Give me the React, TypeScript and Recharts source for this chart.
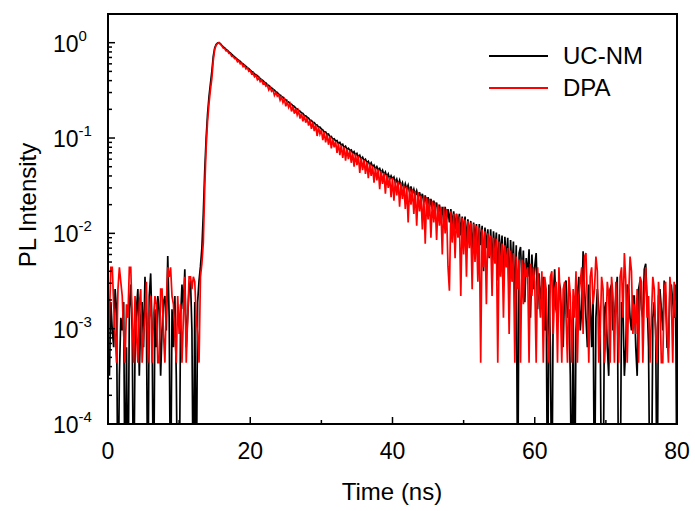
import React from "react";
import { LineChart, Line, XAxis, YAxis, Legend } from "recharts";

// time channels (ns), 0.2 ns apart
const times = [
  0, 0.2, 0.4, 0.6, 0.8, 1, 1.2, 1.4, 1.6, 1.8,
  2, 2.2, 2.4, 2.6, 2.8, 3, 3.2, 3.4, 3.6, 3.8,
  4, 4.2, 4.4, 4.6, 4.8, 5, 5.2, 5.4, 5.6, 5.8,
  6, 6.2, 6.4, 6.6, 6.8, 7, 7.2, 7.4, 7.6, 7.8,
  8, 8.2, 8.4, 8.6, 8.8, 9, 9.2, 9.4, 9.6, 9.8,
  10, 10.2, 10.4, 10.6, 10.8, 11, 11.2, 11.4, 11.6, 11.8,
  12, 12.2, 12.4, 12.6, 12.8, 13, 13.2, 13.4, 13.6, 13.8,
  14, 14.2, 14.4, 14.6, 14.8, 15, 15.2, 15.4, 15.6, 15.8,
  16, 16.2, 16.4, 16.6, 16.8, 17, 17.2, 17.4, 17.6, 17.8,
  18, 18.2, 18.4, 18.6, 18.8, 19, 19.2, 19.4, 19.6, 19.8,
  20, 20.2, 20.4, 20.6, 20.8, 21, 21.2, 21.4, 21.6, 21.8,
  22, 22.2, 22.4, 22.6, 22.8, 23, 23.2, 23.4, 23.6, 23.8,
  24, 24.2, 24.4, 24.6, 24.8, 25, 25.2, 25.4, 25.6, 25.8,
  26, 26.2, 26.4, 26.6, 26.8, 27, 27.2, 27.4, 27.6, 27.8,
  28, 28.2, 28.4, 28.6, 28.8, 29, 29.2, 29.4, 29.6, 29.8,
  30, 30.2, 30.4, 30.6, 30.8, 31, 31.2, 31.4, 31.6, 31.8,
  32, 32.2, 32.4, 32.6, 32.8, 33, 33.2, 33.4, 33.6, 33.8,
  34, 34.2, 34.4, 34.6, 34.8, 35, 35.2, 35.4, 35.6, 35.8,
  36, 36.2, 36.4, 36.6, 36.8, 37, 37.2, 37.4, 37.6, 37.8,
  38, 38.2, 38.4, 38.6, 38.8, 39, 39.2, 39.4, 39.6, 39.8,
  40, 40.2, 40.4, 40.6, 40.8, 41, 41.2, 41.4, 41.6, 41.8,
  42, 42.2, 42.4, 42.6, 42.8, 43, 43.2, 43.4, 43.6, 43.8,
  44, 44.2, 44.4, 44.6, 44.8, 45, 45.2, 45.4, 45.6, 45.8,
  46, 46.2, 46.4, 46.6, 46.8, 47, 47.2, 47.4, 47.6, 47.8,
  48, 48.2, 48.4, 48.6, 48.8, 49, 49.2, 49.4, 49.6, 49.8,
  50, 50.2, 50.4, 50.6, 50.8, 51, 51.2, 51.4, 51.6, 51.8,
  52, 52.2, 52.4, 52.6, 52.8, 53, 53.2, 53.4, 53.6, 53.8,
  54, 54.2, 54.4, 54.6, 54.8, 55, 55.2, 55.4, 55.6, 55.8,
  56, 56.2, 56.4, 56.6, 56.8, 57, 57.2, 57.4, 57.6, 57.8,
  58, 58.2, 58.4, 58.6, 58.8, 59, 59.2, 59.4, 59.6, 59.8,
  60, 60.2, 60.4, 60.6, 60.8, 61, 61.2, 61.4, 61.6, 61.8,
  62, 62.2, 62.4, 62.6, 62.8, 63, 63.2, 63.4, 63.6, 63.8,
  64, 64.2, 64.4, 64.6, 64.8, 65, 65.2, 65.4, 65.6, 65.8,
  66, 66.2, 66.4, 66.6, 66.8, 67, 67.2, 67.4, 67.6, 67.8,
  68, 68.2, 68.4, 68.6, 68.8, 69, 69.2, 69.4, 69.6, 69.8,
  70, 70.2, 70.4, 70.6, 70.8, 71, 71.2, 71.4, 71.6, 71.8,
  72, 72.2, 72.4, 72.6, 72.8, 73, 73.2, 73.4, 73.6, 73.8,
  74, 74.2, 74.4, 74.6, 74.8, 75, 75.2, 75.4, 75.6, 75.8,
  76, 76.2, 76.4, 76.6, 76.8, 77, 77.2, 77.4, 77.6, 77.8,
  78, 78.2, 78.4, 78.6, 78.8, 79, 79.2, 79.4, 79.6, 79.8,
  80,
];

// UC-NM (black); 1e-5 = zero counts, drawn below the axis
const ucnm = [
  1.3e-3, 3.2e-4, 1.9e-3, 9.6e-4, 6.4e-4, 2.6e-3, 1.6e-3, 1e-5, 3.2e-4, 1.3e-3,
  9.6e-4, 1.9e-3, 1e-5, 6.4e-4, 1e-5, 1.6e-3, 2.9e-3, 9.6e-4, 1e-5, 6.4e-4,
  1.6e-3, 2.6e-3, 3.2e-4, 1.3e-3, 1.9e-3, 6.4e-4, 3.5e-3, 1.3e-3, 1e-5, 2.2e-3,
  3.8e-3, 9.6e-4, 1e-5, 1.6e-3, 6.4e-4, 2.2e-3, 1.6e-3, 3.2e-4, 9.6e-4, 1.9e-3,
  2.2e-3, 9.6e-4, 5.8e-3, 1.3e-3, 1e-5, 1.6e-3, 6.4e-4, 2.2e-3, 3.2e-4, 1e-5,
  1e-5, 1.3e-3, 2.9e-3, 1.6e-3, 4.2e-3, 6.4e-4, 1.3e-3, 2.6e-3, 3.2e-3, 9.6e-4,
  1e-5, 1.9e-3, 1e-5, 1.9e-3, 3.2e-3, 4.5e-3, 7e-3, 0.016, 0.045, 0.1,
  0.18, 0.27, 0.37, 0.5, 0.72, 0.88, 0.96, 0.99, 1.0, 0.98,
  0.94, 0.905, 0.88, 0.85, 0.83, 0.8, 0.78, 0.755, 0.73, 0.71,
  0.69, 0.67, 0.65, 0.635, 0.61, 0.6, 0.58, 0.565, 0.545, 0.535,
  0.515, 0.5, 0.49, 0.47, 0.46, 0.45, 0.435, 0.42, 0.41, 0.4,
  0.385, 0.378, 0.362, 0.356, 0.343, 0.336, 0.325, 0.318, 0.305, 0.3,
  0.288, 0.282, 0.272, 0.268, 0.256, 0.252, 0.242, 0.239, 0.229, 0.226,
  0.218, 0.214, 0.205, 0.202, 0.194, 0.191, 0.184, 0.181, 0.172, 0.171,
  0.165, 0.162, 0.154, 0.153, 0.146, 0.145, 0.138, 0.137, 0.13, 0.13,
  0.124, 0.122, 0.115, 0.116, 0.109, 0.11, 0.103, 0.104, 0.097, 0.098,
  0.093, 0.094, 0.087, 0.09, 0.084, 0.086, 0.079, 0.082, 0.076, 0.078,
  0.074, 0.075, 0.069, 0.072, 0.066, 0.069, 0.063, 0.066, 0.06, 0.063,
  0.058, 0.06, 0.055, 0.057, 0.052, 0.055, 0.05, 0.052, 0.047, 0.05,
  0.046, 0.048, 0.043, 0.046, 0.041, 0.044, 0.039, 0.042, 0.037, 0.04,
  0.037, 0.039, 0.034, 0.037, 0.032, 0.036, 0.031, 0.034, 0.029, 0.033,
  0.029, 0.032, 0.027, 0.031, 0.026, 0.029, 0.025, 0.028, 0.024, 0.027,
  0.023, 0.026, 0.021, 0.025, 0.02, 0.024, 0.019, 0.023, 0.018, 0.022,
  0.019, 0.021, 0.016, 0.02, 0.015, 0.019, 0.013, 0.019, 0.014, 0.018,
  0.013, 0.018, 0.012, 0.017, 0.011, 0.016, 0.012, 0.016, 0.0095, 0.015,
  0.01, 0.015, 0.008, 0.014, 0.009, 0.0135, 0.006, 0.013, 0.0085, 0.0125,
  0.005, 0.0125, 0.0075, 0.012, 0.004, 0.0115, 0.007, 0.011, 0.0055, 0.011,
  0.0045, 0.0105, 0.006, 0.0102, 0.0032, 0.0098, 0.0055, 0.0095, 0.0028, 0.0092,
  0.0048, 0.009, 0.0022, 0.0085, 0.0038, 0.0082, 0.0016, 0.0075, 1e-5, 0.0062,
  0.0072, 0.0032, 0.0066, 0.0019, 0.0055, 0.0035, 0.0068, 0.0013, 0.006, 0.0026,
  0.0045, 0.0062, 0.0016, 0.0038, 0.0019, 0.0029, 0.0035, 9.6e-4, 0.0026, 1e-5,
  0.0029, 6.4e-4, 1e-5, 0.0022, 0.0042, 1.6e-3, 0.0013, 0.0032, 0.0026, 9.6e-4,
  6.4e-4, 0.0029, 0.0032, 1.3e-3, 0.0016, 3.2e-4, 1e-5, 0.0019, 1e-5, 9.6e-4,
  0.0022, 0.0035, 9.6e-4, 1.6e-3, 0.0065, 0.0026, 0.0013, 6.4e-4, 0.0029, 1.9e-3,
  6.4e-4, 0.0022, 1e-5, 1.3e-3, 0.0026, 0.0016, 9.6e-4, 1e-5, 1e-5, 1.6e-3,
  0.0019, 6.4e-4, 3.2e-4, 0.0026, 0.0029, 9.6e-4, 1.3e-3, 0.0022, 0.0035, 1e-5,
  1e-5, 0.0019, 1.6e-3, 3.2e-4, 6.4e-4, 0.0029, 0.0026, 1.3e-3, 9.6e-4, 0.0022,
  0.0022, 6.4e-4, 3.2e-4, 0.0026, 0.0032, 1.6e-3, 1.3e-3, 0.0042, 0.0048, 1.9e-3,
  6.4e-4, 1e-5, 1e-5, 1.3e-3, 0.0019, 9.6e-4, 1e-5, 0.0022, 0.0026, 1.6e-3,
  9.6e-4, 0.0032, 0.0022, 6.4e-4, 6.4e-4, 0.0026, 0.0029, 1.9e-3, 1.3e-3, 0.0029,
  1e-5,
];

// DPA (red)
const dpa = [
  4.4e-4, 1.3e-3, 4.4e-3, 4.4e-3, 1.8e-3, 8.8e-4, 4.4e-4, 2.6e-3, 4.4e-3, 3.1e-3,
  2.2e-3, 8.8e-4, 4.4e-4, 1.8e-3, 1.3e-3, 4.4e-3, 4.4e-3, 1.3e-3, 4.4e-4, 2.2e-3,
  8.8e-4, 4.4e-4, 1.8e-3, 2.6e-3, 4.4e-4, 8.8e-4, 1.3e-3, 3.1e-3, 4.4e-4, 1.3e-3,
  2.2e-3, 4.4e-4, 1.3e-3, 2.2e-3, 1.8e-3, 4.4e-4, 4.4e-4, 2.6e-3, 2.6e-3, 8.8e-4,
  4.4e-4, 1.8e-3, 4.4e-3, 3.5e-3, 4.4e-3, 2.2e-3, 1.8e-3, 8.8e-4, 4.4e-4, 2.2e-3,
  8.8e-4, 1.8e-3, 4.4e-4, 1.3e-3, 3.5e-3, 4.4e-4, 1.3e-3, 3.5e-3, 3.5e-3, 2.6e-3,
  3.5e-3, 3.1e-3, 1.3e-3, 8.8e-4, 4.4e-4, 3.5e-3, 4.8e-3, 8e-3, 0.03, 0.08,
  0.15, 0.23, 0.32, 0.42, 0.65, 0.85, 0.94, 0.98, 1.0, 0.96,
  0.93, 0.88, 0.87, 0.82, 0.82, 0.77, 0.77, 0.72, 0.72, 0.68,
  0.68, 0.63, 0.645, 0.6, 0.61, 0.56, 0.575, 0.53, 0.545, 0.5,
  0.51, 0.47, 0.48, 0.44, 0.455, 0.41, 0.43, 0.39, 0.405, 0.37,
  0.38, 0.35, 0.36, 0.32, 0.34, 0.31, 0.32, 0.28, 0.3, 0.275,
  0.285, 0.25, 0.27, 0.235, 0.255, 0.215, 0.24, 0.21, 0.228, 0.19,
  0.215, 0.18, 0.204, 0.175, 0.193, 0.16, 0.182, 0.15, 0.172, 0.145,
  0.163, 0.135, 0.153, 0.125, 0.146, 0.118, 0.138, 0.105, 0.13, 0.11,
  0.122, 0.095, 0.115, 0.09, 0.109, 0.085, 0.104, 0.078, 0.098, 0.08,
  0.092, 0.07, 0.088, 0.066, 0.085, 0.062, 0.081, 0.058, 0.077, 0.06,
  0.074, 0.055, 0.07, 0.05, 0.068, 0.052, 0.065, 0.043, 0.062, 0.046,
  0.059, 0.042, 0.056, 0.038, 0.054, 0.04, 0.051, 0.034, 0.049, 0.036,
  0.047, 0.029, 0.045, 0.033, 0.043, 0.026, 0.041, 0.03, 0.039, 0.024,
  0.038, 0.022, 0.036, 0.025, 0.035, 0.019, 0.034, 0.023, 0.032, 0.018,
  0.031, 0.013, 0.03, 0.02, 0.029, 0.016, 0.028, 0.012, 0.027, 0.017,
  0.025, 0.011, 0.025, 0.0078, 0.024, 0.014, 0.023, 0.009, 0.022, 0.013,
  0.021, 0.0085, 0.02, 0.012, 0.019, 0.006, 0.019, 0.01, 0.018, 0.0045,
  0.0025, 0.017, 0.008, 0.016, 0.0055, 0.016, 0.009, 0.015, 0.0022, 0.0145,
  0.006, 0.014, 0.0035, 0.0135, 0.007, 0.013, 0.0026, 0.0125, 0.005, 0.012,
  0.0031, 0.0115, 4.4e-4, 0.011, 0.0044, 0.0105, 0.0018, 0.01, 0.0057, 0.0095,
  0.0022, 0.009, 0.0048, 0.0088, 4.4e-4, 0.0082, 0.0035, 0.0078, 0.0013, 0.0075,
  0.0044, 0.007, 8.8e-4, 0.0066, 0.0031, 0.0062, 4.4e-4, 0.0057, 0.0026, 0.0053,
  4.4e-4, 0.0053, 0.0018, 0.0049, 0.0035, 0.0044, 4.4e-4, 0.0048, 0.0022, 0.0044,
  0.0031, 4.4e-4, 0.0044, 0.0022, 0.0013, 0.004, 4.4e-4, 0.0035, 0.0026, 8.8e-4,
  4.4e-4, 0.0035, 0.004, 8.8e-4, 0.0026, 0.0031, 4.4e-4, 0.0044, 0.0018, 4.4e-4,
  0.0026, 0.0031, 0.0013, 4.4e-4, 0.0035, 0.0022, 4.4e-4, 0.0026, 0.0013, 0.004,
  4.4e-4, 0.0022, 0.0031, 0.0044, 8.8e-4, 0.0057, 0.0062, 0.0018, 4.4e-4, 0.0035,
  0.0044, 0.0018, 0.0026, 0.0057, 0.004, 4.4e-4, 8.8e-4, 0.0035, 0.0026, 4.4e-4,
  8.8e-4, 0.0031, 0.0022, 4.4e-4, 0.0035, 0.0022, 4.4e-4, 0.0031, 0.0013, 4.4e-4,
  0.0035, 0.0044, 0.0013, 0.0062, 0.0031, 4.4e-4, 0.0022, 0.0057, 0.004, 8.8e-4,
  0.0018, 8.8e-4, 0.0026, 4.4e-4, 0.0035, 0.0031, 4.4e-4, 0.0022, 0.0044, 0.0013,
  0.0022, 4.4e-4, 0.0013, 0.0035, 0.0026, 8.8e-4, 4.4e-4, 0.0031, 0.0018, 4.4e-4,
  4.4e-4, 0.0026, 0.0031, 8.8e-4, 4.4e-4, 0.0035, 0.0022, 4.4e-4, 0.0031, 0.0013,
  0.0022,
];

const xTicks = [0, 10, 20, 30, 40, 50, 60, 70, 80];
const xLabels = [0, 20, 40, 60, 80];
const yTicks = [
  1e-4, 2e-4, 3e-4, 4e-4, 5e-4, 6e-4, 7e-4, 8e-4, 9e-4,
  1e-3, 2e-3, 3e-3, 4e-3, 5e-3, 6e-3, 7e-3, 8e-3, 9e-3,
  1e-2, 2e-2, 3e-2, 4e-2, 5e-2, 6e-2, 7e-2, 8e-2, 9e-2,
  0.1, 0.2, 0.3, 0.4, 0.5, 0.6, 0.7, 0.8, 0.9, 1,
];
const series = [
  { key: "ucnm", name: "UC-NM", color: "#000000" },
  { key: "dpa", name: "DPA", color: "#ff0000" },
];

const data = times.map((t, i) => ({ t, ucnm: ucnm[i], dpa: dpa[i] }));

const FONT = '"Liberation Sans", Arial, sans-serif';

function XTick({ x, y, payload }: any) {
  const major = xLabels.includes(payload.value);
  return (
    <g>
      <line x1={x} x2={x} y1={y} y2={y - (major ? 7 : 4)} stroke="#000" strokeWidth={1.5} />
      {major && (
        <text x={x} y={y + 35} textAnchor="middle" fontSize={23} fontFamily={FONT} fill="#000">
          {payload.value}
        </text>
      )}
    </g>
  );
}

function YTick({ x, y, payload }: any) {
  const lg = Math.log10(payload.value);
  const major = Math.abs(lg - Math.round(lg)) < 1e-6;
  return (
    <g>
      <line x1={x} x2={x + (major ? 7 : 4)} y1={y} y2={y} stroke="#000" strokeWidth={1.5} />
      {major && (
        <text x={x - 55} y={y + 9} fontSize={23} fontFamily={FONT} fill="#000">
          10
          <tspan dy={-11} fontSize={15}>{Math.round(lg)}</tspan>
        </text>
      )}
    </g>
  );
}

function LegendBox() {
  return (
    <div style={{ fontFamily: FONT, fontSize: 24, color: "#000", lineHeight: "32px" }}>
      {series.map((s) => (
        <div key={s.key} style={{ display: "flex", alignItems: "center" }}>
          <span style={{ display: "inline-block", width: 59, borderTop: `2px solid ${s.color}`, marginRight: 15 }} />
          {s.name}
        </div>
      ))}
    </div>
  );
}

export default function App() {
  return (
    <div style={{ position: "absolute", left: 0, top: 0, width: 695, height: 511, background: "#fff" }}>
      <LineChart width={695} height={511} data={data} margin={{ top: 14, right: 18, left: 0, bottom: 0 }}>
        <XAxis
          dataKey="t" type="number" domain={[0, 80]} ticks={xTicks} interval={0}
          height={87} tickSize={0} tickMargin={0} tick={<XTick />}
          axisLine={{ stroke: "#000", strokeWidth: 2 }}
        />
        <YAxis
          scale="log" domain={[1e-4, 2]} allowDataOverflow ticks={yTicks} interval={0}
          width={108} tickSize={0} tickMargin={0} tick={<YTick />}
          axisLine={{ stroke: "#000", strokeWidth: 2 }}
        />
        <Legend
          layout="vertical" align="center" verticalAlign="middle" content={<LegendBox />}
          wrapperStyle={{ left: 489, top: 40, width: 180 }}
        />
        {series.map((s) => (
          <Line
            key={s.key} dataKey={s.key} name={s.name} type="linear" stroke={s.color}
            strokeWidth={1.7} dot={false} isAnimationActive={false}
          />
        ))}
      </LineChart>
      {/* plot frame (top and right edges) */}
      <div style={{ position: "absolute", left: 107, top: 13, width: 571, height: 412, border: "2px solid #000", boxSizing: "border-box", pointerEvents: "none" }} />
      <div style={{ position: "absolute", left: 292, width: 200, top: 478, textAlign: "center", fontFamily: FONT, fontSize: 24, lineHeight: "28px", color: "#000" }}>
        Time (ns)
      </div>
      <div style={{ position: "absolute", left: -72, width: 200, top: 191, textAlign: "center", fontFamily: FONT, fontSize: 24, lineHeight: "28px", color: "#000", transform: "rotate(-90deg)" }}>
        PL Intensity
      </div>
    </div>
  );
}
